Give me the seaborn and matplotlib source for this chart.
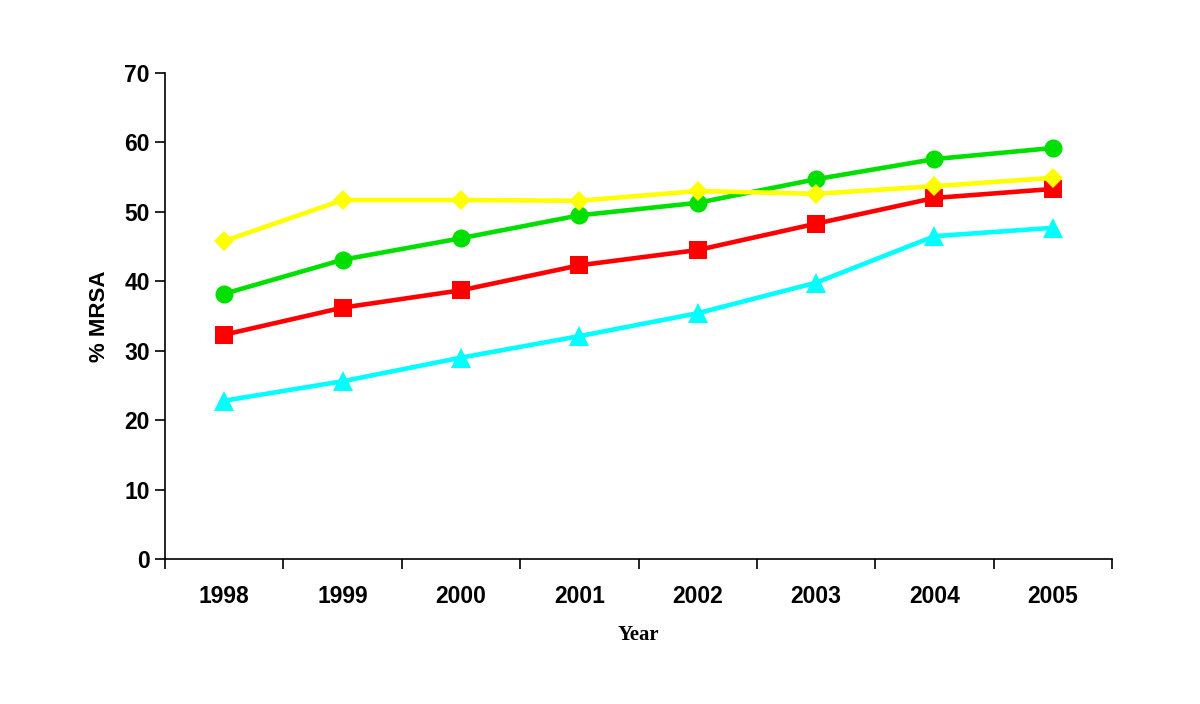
import matplotlib
matplotlib.use("Agg")
import matplotlib.pyplot as plt
import seaborn as sns
import pandas as pd
from matplotlib.ticker import FixedLocator, NullFormatter

years = ["1998", "1999", "2000", "2001", "2002", "2003", "2004", "2005"]
cyan_vals = [22.8, 25.6, 29.0, 32.1, 35.4, 39.8, 46.5, 47.7]
red_vals = [32.3, 36.2, 38.7, 42.3, 44.5, 48.3, 52.0, 53.3]
green_vals = [38.2, 43.1, 46.2, 49.5, 51.3, 54.7, 57.6, 59.2]
yellow_vals = [45.8, 51.7, 51.7, 51.6, 53.0, 52.6, 53.7, 54.9]

series = {"cyan": cyan_vals, "red": red_vals, "green": green_vals, "yellow": yellow_vals}
colors = {"cyan": "#00FFFF", "red": "#FF0000", "green": "#00E000", "yellow": "#FFFF00"}
markers = {"cyan": "^", "red": "s", "green": "o", "yellow": "D"}
msizes = {"cyan": 14, "red": 12.5, "green": 13, "yellow": 10}

rows = []
for name, vals in series.items():
    for y, v in zip(years, vals):
        rows.append({"Year": y, "value": v, "series": name})
df = pd.DataFrame(rows)

sns.set_style("white")
plt.rcParams['font.family'] = ['Liberation Sans', 'DejaVu Sans']
plt.rcParams['text.color'] = 'black'
plt.rcParams['axes.labelcolor'] = 'black'
plt.rcParams['xtick.color'] = 'black'
plt.rcParams['ytick.color'] = 'black'

fig = plt.figure(figsize=(12, 7.04), dpi=100)
ax = fig.add_axes([0.1375, 0.2060, 0.7892, 0.6903])

for name in series:
    sub = df[df["series"] == name]
    sns.lineplot(data=sub, x="Year", y="value", ax=ax, color=colors[name],
                 marker=markers[name], markersize=msizes[name], markeredgewidth=0,
                 linewidth=3.3, sort=False, legend=False)

ax.set_xlim(-0.5, len(years) - 0.5)
ax.set_ylim(0, 70)
ax.set_yticks(range(0, 71, 10))
ax.set_xticks(range(len(years)))
ax.set_xticklabels(years)
ax.xaxis.set_minor_locator(FixedLocator([i - 0.5 for i in range(len(years) + 1)]))
ax.xaxis.set_minor_formatter(NullFormatter())
ax.tick_params(axis="x", which="major", length=0, pad=19, labelsize=16.5, labelcolor="black")
ax.tick_params(axis="x", which="minor", length=7, width=1.2, color="black", direction="out", bottom=True)
ax.tick_params(axis="y", length=7, width=1.2, color="black", direction="out", left=True, labelsize=16.5, pad=4, labelcolor="black")
for lbl in ax.get_xticklabels() + ax.get_yticklabels():
    lbl.set_fontweight("bold")

for s in ["top", "right"]:
    ax.spines[s].set_visible(False)
for s in ["left", "bottom"]:
    ax.spines[s].set_color("black")
    ax.spines[s].set_linewidth(1.2)

ax.set_ylabel("% MRSA", fontsize=16, fontweight="bold", labelpad=10, color="black")
ax.set_xlabel("Year", fontsize=15, fontweight="bold", family="Liberation Serif", labelpad=12, color="black")

fig.savefig("out.png", dpi=100)
